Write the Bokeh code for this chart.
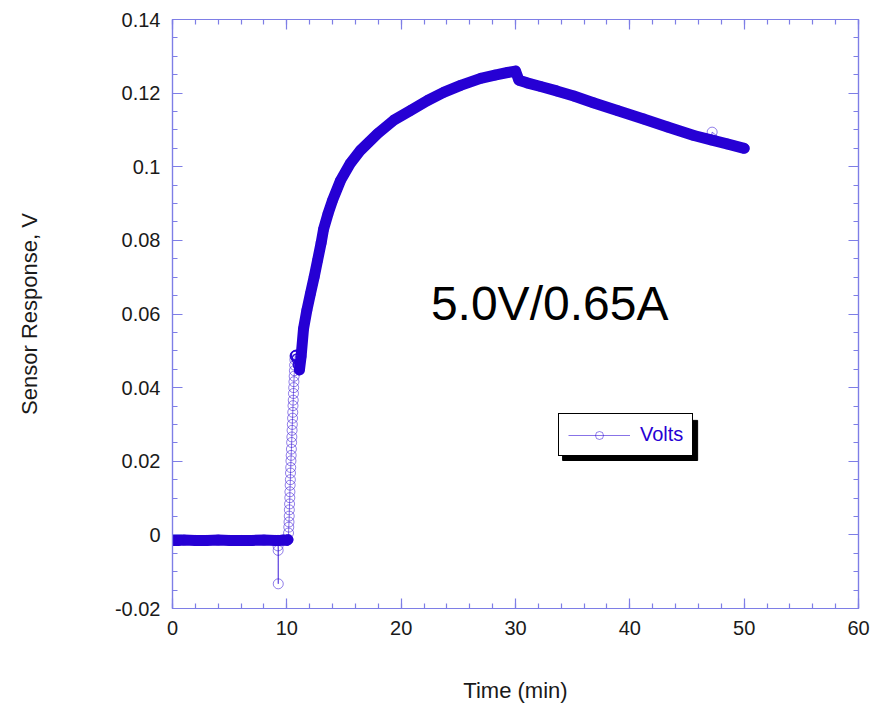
from bokeh.plotting import figure
from bokeh.models import (SingleIntervalTicker, CustomJSTickFormatter, LinearAxis,
                          Legend, LegendItem, BoxAnnotation, Range1d)
from bokeh.core.properties import value
from bokeh.embed import file_html
from bokeh.resources import INLINE

# ---------------- data ----------------
# flat baseline before the step (min, V)
flat_t = [0.0, 0.5, 1.0, 2.0, 3.0, 4.0, 5.0, 6.0, 7.0, 8.0, 9.0, 9.2, 9.26, 9.4, 9.7, 10.0, 10.1]
flat_v = [-0.0015, -0.0015, -0.0014, -0.0015, -0.0015, -0.0014, -0.0015, -0.0015, -0.0015,
          -0.0014, -0.0015, -0.0015, -0.0015, -0.0015, -0.0014, -0.0015, -0.0013]
# single downward glitch near 9.25 min
spike_t = [9.23, 9.24, 9.25]
spike_v = [-0.0030, -0.0042, -0.0133]
# fast rise (individual sparse samples)
rise_t = [10.15, 10.17, 10.19, 10.21, 10.22, 10.24, 10.26, 10.27, 10.29, 10.31, 10.32, 10.34,
          10.36, 10.38, 10.40, 10.42, 10.44, 10.46, 10.48, 10.50, 10.52, 10.54, 10.56, 10.58,
          10.60, 10.62, 10.64, 10.66, 10.68, 10.70]
rise_v = [0.0005, 0.0021, 0.0035, 0.0051, 0.0068, 0.0084, 0.0101, 0.0117, 0.0135, 0.0150,
          0.0168, 0.0183, 0.0201, 0.0216, 0.0233, 0.0251, 0.0266, 0.0284, 0.0300, 0.0317,
          0.0333, 0.0351, 0.0366, 0.0384, 0.0400, 0.0416, 0.0431, 0.0446, 0.0461, 0.0476]
# cluster at the top of the step
top_t = [10.74, 10.82, 10.90, 11.00]
top_v = [0.0486, 0.0488, 0.0478, 0.0462]
# main response curve
curve_t = [11.10, 11.25, 11.46, 11.75, 12.07, 12.40, 12.69, 13.00, 13.21, 13.60, 14.00, 14.70,
           15.57, 16.45, 17.94, 19.34, 20.82, 22.31, 23.71, 25.20, 26.95, 28.20, 29.30, 30.00,
           30.30, 31.00, 32.20, 33.60, 35.10, 36.80, 38.90, 41.20, 43.30, 45.60, 47.10, 48.50, 50.00]
curve_v = [0.0448, 0.0485, 0.0560, 0.0610, 0.0656, 0.0702, 0.0746, 0.0793, 0.0830, 0.0872,
           0.0909, 0.0963, 0.1010, 0.1045, 0.1090, 0.1126, 0.1153, 0.1180, 0.1202, 0.1221,
           0.1240, 0.1249, 0.1256, 0.1260, 0.1235, 0.1228, 0.1218, 0.1206, 0.1192, 0.1174,
           0.1153, 0.1130, 0.1108, 0.1085, 0.1073, 0.1062, 0.1050]
# stray sample above the curve
stray_t = [47.2]
stray_v = [0.1094]

x_major = 10
x_minor = 5
y_major = 0.02
y_minor = 4
x_lo, x_hi = 0, 60
y_lo, y_hi = -0.02, 0.14

annotation_text = "5.0V/0.65A"
series_name = "Volts"

# ---------------- styling ----------------
C = "#2600D4"
AX = "#7E7EE6"
FONT = "Liberation Sans"

pairs = sorted(zip(flat_t + spike_t + rise_t + top_t + curve_t + stray_t,
                   flat_v + spike_v + rise_v + top_v + curve_v + stray_v))
all_t = [a for a, b in pairs]
all_v = [b for a, b in pairs]

p = figure(width=880, height=705, output_backend="svg", toolbar_location=None,
           x_range=Range1d(x_lo, x_hi), y_range=Range1d(y_lo, y_hi),
           min_border_left=172, min_border_right=22, min_border_top=19, min_border_bottom=97,
           background_fill_color="white", border_fill_color="white")
p.xgrid.visible = False
p.ygrid.visible = False
p.outline_line_color = AX
p.outline_line_width = 1.2
p.xaxis.visible = False
p.yaxis.visible = False

xt = SingleIntervalTicker(interval=x_major, num_minor_ticks=x_minor)
yt = SingleIntervalTicker(interval=y_major, num_minor_ticks=y_minor)
yfmt = CustomJSTickFormatter(code="return Number(tick.toFixed(3)).toString();")
blank = CustomJSTickFormatter(code="return '';")


def style(ax, labels=True):
    ax.axis_line_color = AX
    ax.axis_line_width = 1.2
    ax.major_tick_line_color = AX
    ax.minor_tick_line_color = AX
    ax.major_tick_line_width = 1.2
    ax.minor_tick_line_width = 1.2
    ax.major_tick_in = 10
    ax.major_tick_out = 0
    ax.minor_tick_in = 5
    ax.minor_tick_out = 0
    ax.major_label_text_font = FONT
    ax.major_label_text_font_size = "20px" if labels else "0px"
    ax.major_label_text_color = "#1a1a1a"
    ax.axis_label_text_font = FONT
    ax.axis_label_text_font_size = "22px"
    ax.axis_label_text_font_style = "normal"
    ax.axis_label_text_color = "#1a1a1a"


xb = LinearAxis(ticker=xt, axis_label="Time (min)", major_label_standoff=12,
                axis_label_standoff=40)
style(xb)
p.add_layout(xb, "below")
yl = LinearAxis(ticker=yt, formatter=yfmt, axis_label="Sensor Response, V",
                major_label_standoff=12, axis_label_standoff=70)
style(yl)
p.add_layout(yl, "left")
xa = LinearAxis(ticker=xt, formatter=blank, major_label_standoff=0)
style(xa, labels=False)
p.add_layout(xa, "above")
yr = LinearAxis(ticker=yt, formatter=blank, major_label_standoff=0)
style(yr, labels=False)
p.add_layout(yr, "right")

# thin connecting line through every sample
thin = p.line(all_t, all_v, line_color=C, line_alpha=0.55, line_width=1)
# dense sampled band (overlapping markers)
p.line(flat_t, flat_v, line_color=C, line_width=11, line_cap="round", line_join="round")
p.line(curve_t, curve_v, line_color=C, line_width=11, line_cap="round", line_join="round")
# open markers
light = p.scatter(all_t, all_v, marker="circle", size=10, fill_color=None,
                  line_color=C, line_alpha=0.5, line_width=1)
p.scatter(top_t, top_v, marker="circle", size=10, fill_color=None,
          line_color=C, line_alpha=0.9, line_width=1.4)

p.text(x=[22.6], y=[0.0629], text=[annotation_text], text_font=value(FONT),
       text_font_size="48px", text_color="#000000", text_baseline="alphabetic",
       text_align="left")

# legend with drop shadow
shadow = BoxAnnotation(left=34.12, right=45.93, top=0.0311, bottom=0.0202,
                       fill_color="black", fill_alpha=1, line_color="black", line_alpha=1)
p.add_layout(shadow)
legend = Legend(items=[LegendItem(label=series_name, renderers=[thin, light])],
                location=(386, 152), orientation="vertical",
                border_line_color="black", border_line_width=1.5, border_line_alpha=1,
                background_fill_color="white", background_fill_alpha=1,
                padding=9, glyph_width=62, glyph_height=20, label_standoff=10,
                label_text_font=FONT, label_text_font_size="20px", label_text_color=C,
                margin=0)
p.add_layout(legend, "center")

open("out.html", "w").write(file_html(p, INLINE))
